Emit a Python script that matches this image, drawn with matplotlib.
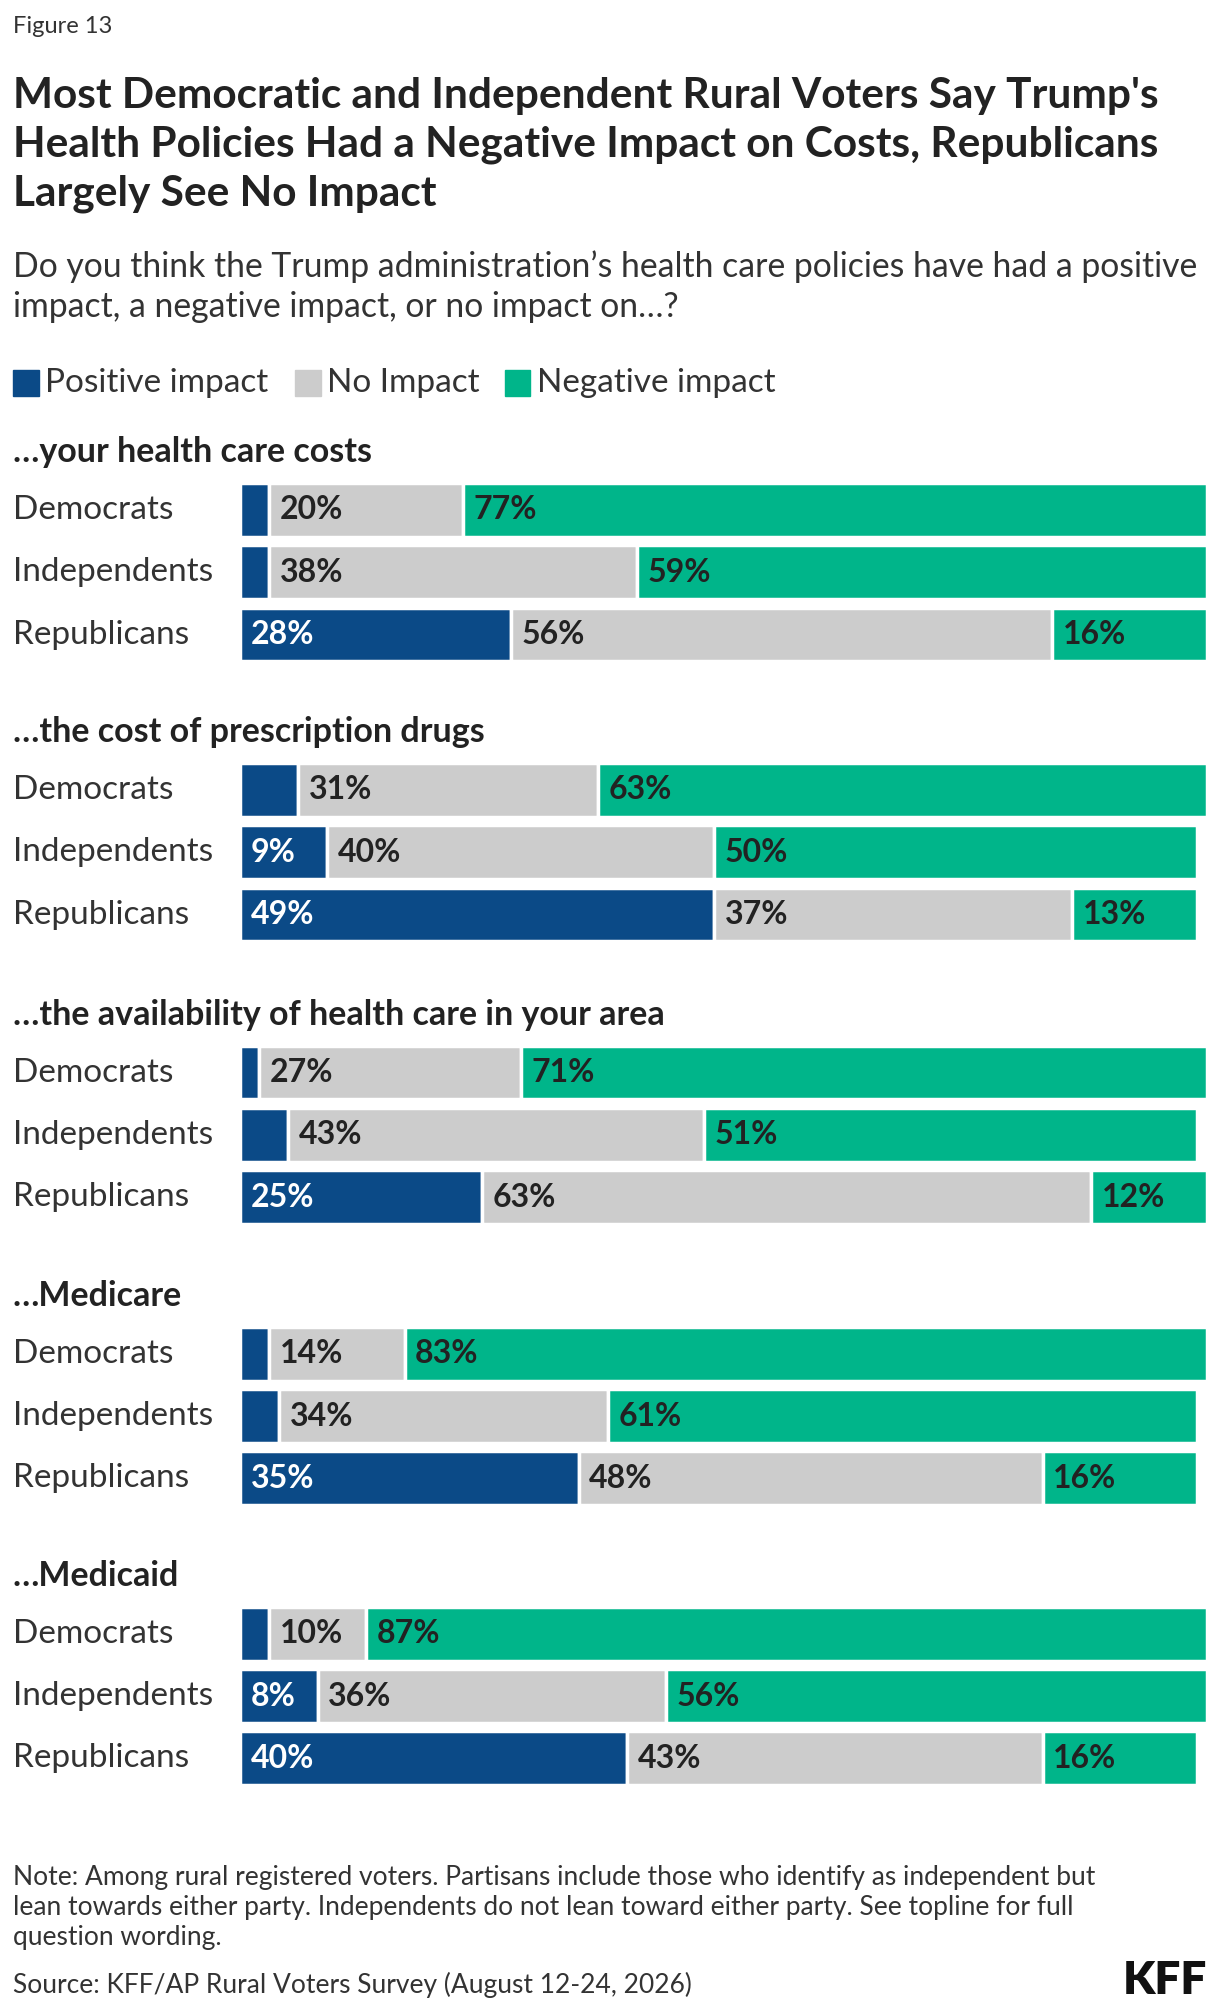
import matplotlib
matplotlib.use("Agg")
import matplotlib.pyplot as plt

groups = ["…your health care costs", "…the cost of prescription drugs",
          "…the availability of health care in your area", "…Medicare", "…Medicaid"]
parties = ["Democrats", "Independents", "Republicans"]
positive = [[3, 3, 28], [6, 9, 49], [2, 5, 25], [3, 4, 35], [3, 8, 40]]
no_impact = [[20, 38, 56], [31, 40, 37], [27, 43, 63], [14, 34, 48], [10, 36, 43]]
negative = [[77, 59, 16], [63, 50, 13], [71, 51, 12], [83, 61, 16], [87, 56, 16]]
series_names = ["Positive impact", "No Impact", "Negative impact"]
colors = ["#0b4a87", "#cccccc", "#00b58a"]
text_colors = ["white", "#222222", "#222222"]

plt.rcParams['font.family'] = ['Lato', 'DejaVu Sans']
W, H = 950, 1568
fig = plt.figure(figsize=(12.2, 20.14), dpi=100)
fx = lambda x: x / W
fy = lambda y: 1 - y / H

fig.text(fx(10), fy(21), "Figure 13", fontsize=17, color="#333333", va="center")
fig.text(fx(10), fy(113), "Most Democratic and Independent Rural Voters Say Trump's\nHealth Policies Had a Negative Impact on Costs, Republicans\nLargely See No Impact",
         fontsize=30.5, fontweight="bold", color="#222222", va="center", linespacing=1.33)
fig.text(fx(10), fy(223), "Do you think the Trump administration’s health care policies have had a positive\nimpact, a negative impact, or no impact on…?",
         fontsize=24.3, color="#333333", va="center", linespacing=1.33)
lx = [10, 230, 393]
for i, name in enumerate(series_names):
    fig.patches.append(plt.Rectangle((fx(lx[i]), fy(308)), fx(20), 20 / H, color=colors[i],
                                     transform=fig.transFigure, figure=fig))
    fig.text(fx(lx[i] + 25), fy(298), name, fontsize=24, color="#333333", va="center")

ax = fig.add_axes([fx(187), 0, fx(940) - fx(187), 1])
ax.set_xlim(0, 100)
ax.set_ylim(H, 0)
ax.axis("off")

title_y = [352, 570, 790, 1009, 1227]
for g, gname in enumerate(groups):
    ty = title_y[g]
    fig.text(fx(10), fy(ty), gname, fontsize=24.5, fontweight="bold", color="#222222", va="center")
    for r, p in enumerate(parties):
        y = ty + 45 + r * 48.5
        fig.text(fx(10), fy(y), p, fontsize=24, color="#333333", va="center")
        vals = [positive[g][r], no_impact[g][r], negative[g][r]]
        left = 0
        for k, v in enumerate(vals):
            ax.barh(y, v, left=left, height=42, color=colors[k], edgecolor="white", linewidth=2.5)
            if v >= 8:
                ax.text(left + 1.1, y, f"{v}%", fontsize=23, fontweight="bold",
                        color=text_colors[k], va="center", ha="left")
            left += v

fig.text(fx(10), fy(1485), "Note: Among rural registered voters. Partisans include those who identify as independent but\nlean towards either party. Independents do not lean toward either party. See topline for full\nquestion wording.",
         fontsize=19, color="#333333", va="center", linespacing=1.25)
fig.text(fx(10), fy(1545), "Source: KFF/AP Rural Voters Survey (August 12-24, 2026)", fontsize=19, color="#333333", va="center")
fig.text(fx(940), fy(1542), "KFF", fontsize=33, fontweight="heavy", color="#111111", va="center", ha="right")

fig.savefig("out.png", dpi=100)
